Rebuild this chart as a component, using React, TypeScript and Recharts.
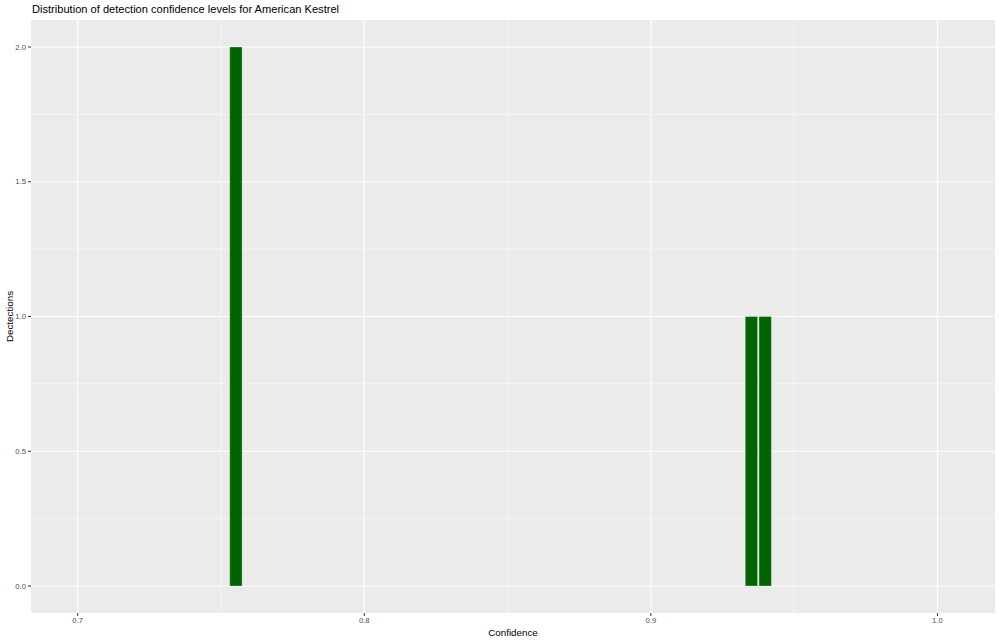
import React from "react";
import {
  ComposedChart,
  Bar,
  XAxis,
  YAxis,
  CartesianGrid,
} from "recharts";

// Histogram bins (bin centre, count)
const binCenters = [0.7551, 0.935, 0.9398];
const counts = [2, 1, 1];
const BIN_WIDTH = 0.0048;

const xTicks = [0.7, 0.8, 0.9, 1.0];
const xMinor = [0.75, 0.85, 0.95];
const yTicks = [0, 0.5, 1, 1.5, 2];
const yMinor = [0.25, 0.75, 1.25, 1.75];
const X_DOMAIN: [number, number] = [0.6837, 1.0201];
const Y_DOMAIN: [number, number] = [-0.1, 2.1];

const title = "Distribution of detection confidence levels for American Kestrel";
const xTitle = "Confidence";
const yTitle = "Dectections";

const data = binCenters.map((x, i) => ({ x, n: counts[i] }));

const W = 1000;
const H = 642;
const MARGIN = { top: 20, right: 5, left: 0, bottom: 0 };
const Y_AXIS_W = 31;
const X_AXIS_H = 29;
const PLOT_W = W - MARGIN.left - MARGIN.right - Y_AXIS_W;
const BAR_PX = (BIN_WIDTH / (X_DOMAIN[1] - X_DOMAIN[0])) * PLOT_W;

const FONT = "'Liberation Sans', Arial, Helvetica, sans-serif";

const XLabel = (props: any) => {
  const vb = props.viewBox || {};
  return (
    <text
      x={vb.x + vb.width / 2}
      y={H - 6}
      textAnchor="middle"
      fontFamily={FONT}
      fontSize={9.8}
      fill="#000"
    >
      {xTitle}
    </text>
  );
};

const YLabel = (props: any) => {
  const vb = props.viewBox || {};
  const cx = 13;
  const cy = vb.y + vb.height / 2;
  return (
    <text
      x={cx}
      y={cy}
      textAnchor="middle"
      fontFamily={FONT}
      fontSize={9.8}
      fill="#000"
      transform={`rotate(-90, ${cx}, ${cy})`}
    >
      {yTitle}
    </text>
  );
};

export default function App() {
  return (
    <div
      style={{
        position: "absolute",
        left: 0,
        top: 0,
        width: W,
        height: H,
        background: "#fff",
      }}
    >
      <div
        style={{
          position: "absolute",
          left: 32,
          top: 3,
          fontFamily: FONT,
          fontSize: 11.1,
          color: "#000",
          whiteSpace: "nowrap",
        }}
      >
        {title}
      </div>
      <ComposedChart width={W} height={H} data={data} margin={MARGIN}>
        <CartesianGrid
          fill="#EBEBEB"
          stroke="#FFFFFF"
          strokeWidth={0.55}
          horizontalValues={yMinor}
          verticalValues={xMinor}
        />
        <CartesianGrid
          stroke="#FFFFFF"
          strokeWidth={1.1}
          horizontalValues={yTicks}
          verticalValues={xTicks}
        />
        <XAxis
          type="number"
          dataKey="x"
          domain={X_DOMAIN}
          allowDataOverflow
          ticks={xTicks}
          tickFormatter={(v: number) => v.toFixed(1)}
          height={X_AXIS_H}
          axisLine={false}
          tickSize={3}
          tickMargin={2}
          tickLine={{ stroke: "#333333", strokeWidth: 1 }}
          tick={{ fill: "#4D4D4D", fontSize: 7.7, fontFamily: FONT }}
          label={<XLabel />}
        />
        <YAxis
          type="number"
          domain={Y_DOMAIN}
          allowDataOverflow
          ticks={yTicks}
          tickFormatter={(v: number) => v.toFixed(1)}
          width={Y_AXIS_W}
          axisLine={false}
          tickSize={3}
          tickMargin={2}
          tickLine={{ stroke: "#333333", strokeWidth: 1 }}
          tick={{ fill: "#4D4D4D", fontSize: 7.7, fontFamily: FONT }}
          label={<YLabel />}
        />
        <Bar
          dataKey="n"
          fill="#006400"
          stroke="rgba(255,255,255,0.55)"
          strokeWidth={0.6}
          barSize={BAR_PX}
          isAnimationActive={false}
        />
      </ComposedChart>
    </div>
  );
}
